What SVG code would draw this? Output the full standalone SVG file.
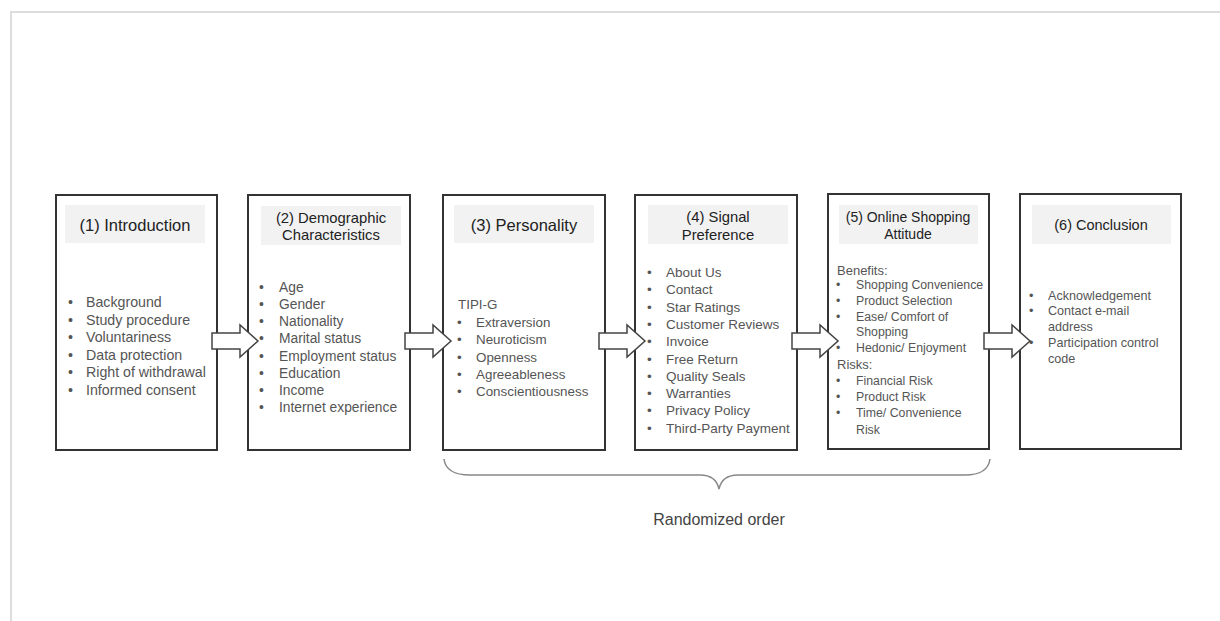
<svg xmlns="http://www.w3.org/2000/svg" width="1220" height="621" viewBox="0 0 1220 621">
<style>
text{font-family:"Liberation Sans",Arial,sans-serif}
.box{fill:#fff;stroke:#333;stroke-width:2}
.hdr{fill:#f2f2f2;stroke:none}
.title{fill:#222;text-anchor:middle}
.it{fill:#555}
.arrow{fill:#fff;stroke:#444;stroke-width:1.5;stroke-linejoin:miter}
.brace{fill:none;stroke:#888;stroke-width:1.5}
</style>
<rect x="0" y="0" width="1220" height="621" fill="#fff"/>
<path d="M11,621 V12 H1220" fill="none" stroke="#ddd" stroke-width="2"/>

<g id="node1">
<rect class="box" x="56" y="195" width="161" height="255"/>
<rect class="hdr" x="65" y="205" width="140" height="38"/>
<text class="title" x="135" y="231" font-size="16.5">(1) Introduction</text>
<g class="it" font-size="14.2">
<text x="68" y="307">•</text><text x="86" y="307">Background</text>
<text x="68" y="325">•</text><text x="86" y="325">Study procedure</text>
<text x="68" y="342">•</text><text x="86" y="342">Voluntariness</text>
<text x="68" y="360">•</text><text x="86" y="360">Data protection</text>
<text x="68" y="377">•</text><text x="86" y="377">Right of withdrawal</text>
<text x="68" y="395">•</text><text x="86" y="395">Informed consent</text>
</g>
</g>

<g id="node2">
<rect class="box" x="248" y="195" width="162" height="255"/>
<rect class="hdr" x="261" y="206" width="140" height="39"/>
<text class="title" x="331" y="223" font-size="14.8">(2) Demographic</text>
<text class="title" x="331" y="240" font-size="14.8">Characteristics</text>
<g class="it" font-size="13.8">
<text x="259" y="292">•</text><text x="279" y="292">Age</text>
<text x="259" y="309">•</text><text x="279" y="309">Gender</text>
<text x="259" y="326">•</text><text x="279" y="326">Nationality</text>
<text x="259" y="343">•</text><text x="279" y="343">Marital status</text>
<text x="259" y="361">•</text><text x="279" y="361">Employment status</text>
<text x="259" y="378">•</text><text x="279" y="378">Education</text>
<text x="259" y="395">•</text><text x="279" y="395">Income</text>
<text x="259" y="412">•</text><text x="279" y="412">Internet experience</text>
</g>
</g>

<g id="node3">
<rect class="box" x="443" y="195" width="162" height="255"/>
<rect class="hdr" x="454" y="205" width="140" height="38"/>
<text class="title" x="524" y="231" font-size="16.5">(3) Personality</text>
<g class="it" font-size="13.4">
<text x="458" y="309">TIPI-G</text>
<text x="457" y="327">•</text><text x="476" y="327">Extraversion</text>
<text x="457" y="344">•</text><text x="476" y="344">Neuroticism</text>
<text x="457" y="362">•</text><text x="476" y="362">Openness</text>
<text x="457" y="379">•</text><text x="476" y="379">Agreeableness</text>
<text x="457" y="396">•</text><text x="476" y="396">Conscientiousness</text>
</g>
</g>

<g id="node4">
<rect class="box" x="635" y="195" width="162" height="255"/>
<rect class="hdr" x="648" y="205" width="140" height="39"/>
<text class="title" x="718" y="222" font-size="14.8">(4) Signal</text>
<text class="title" x="718" y="240" font-size="14.8">Preference</text>
<g class="it" font-size="13.5">
<text x="647" y="277">•</text><text x="666" y="277">About Us</text>
<text x="647" y="294">•</text><text x="666" y="294">Contact</text>
<text x="647" y="312">•</text><text x="666" y="312">Star Ratings</text>
<text x="647" y="329">•</text><text x="666" y="329">Customer Reviews</text>
<text x="647" y="346">•</text><text x="666" y="346">Invoice</text>
<text x="647" y="364">•</text><text x="666" y="364">Free Return</text>
<text x="647" y="381">•</text><text x="666" y="381">Quality Seals</text>
<text x="647" y="398">•</text><text x="666" y="398">Warranties</text>
<text x="647" y="415">•</text><text x="666" y="415">Privacy Policy</text>
<text x="647" y="433">•</text><text x="666" y="433">Third-Party Payment</text>
</g>
</g>

<g id="node5">
<rect class="box" x="828" y="194" width="161" height="255"/>
<rect class="hdr" x="839" y="205" width="139" height="39"/>
<text class="title" x="908" y="222" font-size="14">(5) Online Shopping</text>
<text class="title" x="908" y="239" font-size="14">Attitude</text>
<g class="it" font-size="12.3">
<text x="837" y="275" font-size="13">Benefits:</text>
<text x="836" y="289">•</text><text x="856" y="289">Shopping Convenience</text>
<text x="836" y="305">•</text><text x="856" y="305">Product Selection</text>
<text x="836" y="321">•</text><text x="856" y="321">Ease/ Comfort of</text>
<text x="856" y="336">Shopping</text>
<text x="836" y="352">•</text><text x="856" y="352">Hedonic/ Enjoyment</text>
<text x="837" y="369" font-size="13">Risks:</text>
<text x="836" y="385">•</text><text x="856" y="385">Financial Risk</text>
<text x="836" y="401">•</text><text x="856" y="401">Product Risk</text>
<text x="836" y="417">•</text><text x="856" y="417">Time/ Convenience</text>
<text x="856" y="434">Risk</text>
</g>
</g>

<g id="node6">
<rect class="box" x="1020" y="194" width="161" height="255"/>
<rect class="hdr" x="1032" y="205" width="139" height="39"/>
<text class="title" x="1101" y="230" font-size="14.5">(6) Conclusion</text>
<g class="it" font-size="12.6">
<text x="1029" y="300">•</text><text x="1048" y="300">Acknowledgement</text>
<text x="1029" y="315">•</text><text x="1048" y="315">Contact e-mail</text>
<text x="1048" y="331">address</text>
<text x="1029" y="347">•</text><text x="1048" y="347">Participation control</text>
<text x="1048" y="363">code</text>
</g>
</g>

<g id="connectors">
<path class="arrow" d="M212,333 H240 V325 L258,341 L240,357 V349 H212 Z"/>
<path class="arrow" d="M405,333 H433 V325 L451,341 L433,357 V349 H405 Z"/>
<path class="arrow" d="M599,333 H627 V325 L645,341 L627,357 V349 H599 Z"/>
<path class="arrow" d="M792,333 H820 V325 L838,341 L820,357 V349 H792 Z"/>
<path class="arrow" d="M984,333 H1012 V325 L1030,341 L1012,357 V349 H984 Z"/>
</g>

<g id="brace">
<path class="brace" d="M444,459 Q446,475 470,475 H700 Q716,475 719,489 Q722,475 738,475 H965 Q988,475 990,459"/>
<text x="719" y="525" font-size="16" fill="#444" text-anchor="middle">Randomized order</text>
</g>
</svg>
